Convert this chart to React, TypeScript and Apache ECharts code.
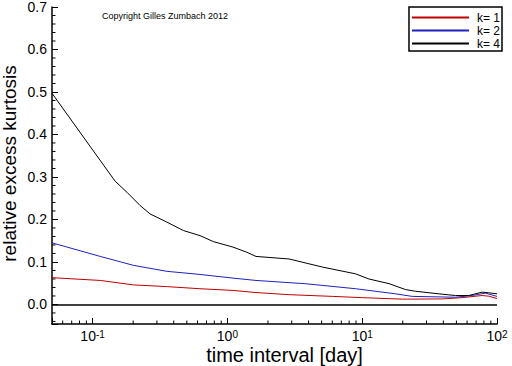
import React, { useEffect, useRef } from "react";
import * as echarts from "echarts";

// time interval [day], relative excess kurtosis
const seriesK1: [number, number][] = [
  [0.05, 0.063], [0.114, 0.0565], [0.201, 0.046], [0.355, 0.042], [0.626, 0.037],
  [1.1, 0.033], [1.63, 0.028], [2.87, 0.023], [6.01, 0.019], [10.0, 0.016],
  [19.8, 0.0125], [39.2, 0.013], [55.1, 0.016], [77.5, 0.021], [86.7, 0.0195], [100, 0.014],
];
const seriesK2: [number, number][] = [
  [0.05, 0.145], [0.114, 0.113], [0.201, 0.092], [0.355, 0.078], [0.626, 0.0706],
  [1.1, 0.062], [1.63, 0.0565], [3.82, 0.0487], [8.94, 0.037], [17.7, 0.025],
  [23.5, 0.019], [49.2, 0.017], [65.4, 0.021], [82, 0.0266], [100, 0.019],
];
const seriesK4: [number, number][] = [
  [0.05, 0.497], [0.147, 0.29], [0.18, 0.264], [0.225, 0.233], [0.267, 0.213],
  [0.355, 0.194], [0.471, 0.174], [0.626, 0.162], [0.786, 0.148], [1.1, 0.135],
  [1.39, 0.123], [1.63, 0.113], [2.87, 0.107], [5.07, 0.088], [8.94, 0.072],
  [11.2, 0.06], [15.8, 0.049], [21.0, 0.035], [24.9, 0.031], [37, 0.025],
  [49.2, 0.021], [61.7, 0.021], [77.5, 0.029], [86.7, 0.0275], [100, 0.025],
];
const seriesNames = ["k= 1", "k= 2", "k= 4"];
const seriesColors = ["#c00000", "#2020c0", "#000000"];

const X_MIN = 0.05;
const X_MAX = 100;
const Y_MIN = -0.046;
const Y_MAX = 0.7;

const xMinorTicks = [
  0.06, 0.07, 0.08, 0.09,
  0.2, 0.3, 0.4, 0.5, 0.6, 0.7, 0.8, 0.9,
  2, 3, 4, 5, 6, 7, 8, 9,
  20, 30, 40, 50, 60, 70, 80, 90,
];
const yMinorTicks = [
  -0.04, -0.02, 0.02, 0.04, 0.06, 0.08, 0.12, 0.14, 0.16, 0.18,
  0.22, 0.24, 0.26, 0.28, 0.32, 0.34, 0.36, 0.38, 0.42, 0.44, 0.46, 0.48,
  0.52, 0.54, 0.56, 0.58, 0.62, 0.64, 0.66, 0.68,
];

const FONT = "'Liberation Sans', Arial, Helvetica, sans-serif";

export default function App() {
  const ref = useRef<HTMLDivElement>(null);

  useEffect(() => {
    if (!ref.current) return;
    const chart = echarts.init(ref.current, undefined, { renderer: "svg" });
    const lineSeries = [seriesK1, seriesK2, seriesK4].map((d, i) => ({
      name: seriesNames[i],
      type: "line",
      data: d,
      symbol: "none",
      smooth: false,
      color: seriesColors[i],
      lineStyle: { width: 1, color: seriesColors[i] },
      z: 3,
      ...(i === 0
        ? {
            markLine: {
              silent: true,
              symbol: "none",
              label: { show: false },
              lineStyle: { color: "#000", width: 1.5, type: "solid" },
              data: [{ yAxis: 0 }],
            },
          }
        : {}),
    }));

    chart.setOption({
      animation: false,
      textStyle: { fontFamily: FONT },
      title: {
        text: "Copyright Gilles Zumbach 2012",
        left: 102,
        top: 11,
        padding: 0,
        textStyle: { fontSize: 9, fontWeight: "normal", color: "#000", fontFamily: FONT },
      },
      legend: {
        data: seriesNames,
        orient: "vertical",
        right: 10,
        top: 7,
        padding: [4, 2, 1, 2],
        borderColor: "#000",
        borderWidth: 1.5,
        itemWidth: 57,
        itemHeight: 13,
        itemGap: 0,
        backgroundColor: "#fff",
        itemStyle: { opacity: 0 },
        textStyle: { fontSize: 12, lineHeight: 13, color: "#000", fontFamily: FONT, padding: [0, 0, 0, 3] },
      },
      grid: { left: 52, right: 15, top: 7, bottom: 42, containLabel: false, outerBoundsMode: "none" },
      xAxis: {
        type: "log",
        logBase: 10,
        min: X_MIN,
        max: X_MAX,
        name: "time interval [day]",
        nameLocation: "middle",
        nameGap: 21,
        nameMoveOverlap: false,
        nameTextStyle: { fontSize: 20, lineHeight: 20, color: "#000", fontFamily: FONT, padding: [0, 0, 0, 20] },
        axisLine: { onZero: false, lineStyle: { color: "#000", width: 1.5 } },
        axisTick: { inside: true, length: 6, lineStyle: { color: "#000", width: 1 } },
        splitLine: { show: false },
        axisLabel: {
          margin: 5,
          color: "#000",
          fontSize: 14,
          lineHeight: 13,
          fontFamily: FONT,
          formatter: (v: number) => {
            const e = Math.log10(v);
            if (Math.abs(e - Math.round(e)) > 1e-6) return "";
            return "10{sup|" + Math.round(e) + "}";
          },
          rich: {
            sup: { fontSize: 10, lineHeight: 10, verticalAlign: "top", color: "#000", fontFamily: FONT },
          },
        },
      },
      yAxis: {
        type: "value",
        min: Y_MIN,
        max: Y_MAX,
        splitNumber: 7,
        name: "relative excess kurtosis",
        nameLocation: "middle",
        nameGap: 33,
        nameMoveOverlap: false,
        nameRotate: 90,
        nameTextStyle: { fontSize: 19, lineHeight: 19, color: "#000", fontFamily: FONT, padding: [0, 0, 0, 4] },
        axisLine: { show: true, onZero: false, lineStyle: { color: "#000", width: 1.5 } },
        axisTick: { show: true, inside: true, length: 6, lineStyle: { color: "#000", width: 1 } },
        splitLine: { show: false },
        axisLabel: {
          margin: 5,
          color: "#000",
          fontSize: 14,
          fontFamily: FONT,
          formatter: (v: number) => (v < -0.001 ? "" : v.toFixed(1)),
        },
      },
      series: [
        ...lineSeries,
        {
          type: "custom",
          name: "xminor",
          silent: true,
          data: xMinorTicks.map((v) => [v, Y_MIN]),
          renderItem: (_p: any, api: any) => {
            const pt = api.coord([api.value(0), Y_MIN]);
            return {
              type: "line",
              shape: { x1: pt[0], y1: pt[1], x2: pt[0], y2: pt[1] - 3.5 },
              style: { stroke: "#000", lineWidth: 1 },
            };
          },
        },
        {
          type: "custom",
          name: "yminor",
          silent: true,
          data: yMinorTicks.map((v) => [X_MIN, v]),
          renderItem: (_p: any, api: any) => {
            const pt = api.coord([X_MIN, api.value(1)]);
            return {
              type: "line",
              shape: { x1: pt[0], y1: pt[1], x2: pt[0] + 3.5, y2: pt[1] },
              style: { stroke: "#000", lineWidth: 1 },
            };
          },
        },
      ],
    });
    return () => chart.dispose();
  }, []);

  return (
    <div
      ref={ref}
      style={{ position: "fixed", left: 0, top: 0, width: 512, height: 366, background: "#fff" }}
    />
  );
}
